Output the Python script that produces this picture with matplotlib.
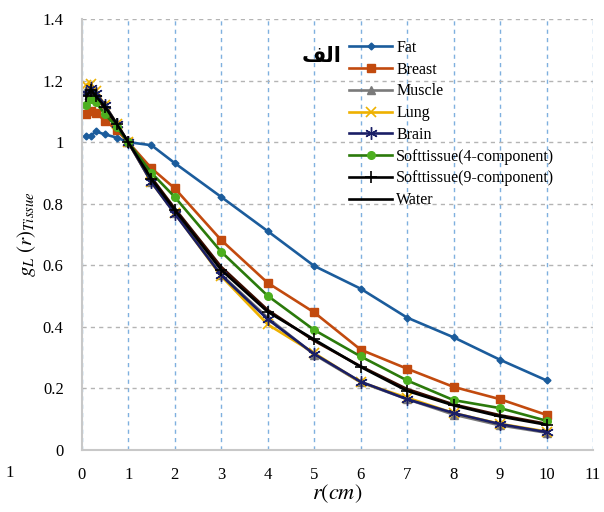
import matplotlib
matplotlib.use("Agg")
import matplotlib.pyplot as plt

# radial distances (cm)
r = [0.1, 0.2, 0.3, 0.5, 0.75, 1, 1.5, 2, 3, 4, 5, 6, 7, 8, 9, 10]

fat = [1.02, 1.02, 1.035, 1.025, 1.015, 1.0, 0.99, 0.932, 0.822, 0.711, 0.598, 0.524, 0.43, 0.366, 0.293, 0.226]
breast = [1.09, 1.10, 1.095, 1.07, 1.04, 1.0, 0.915, 0.85, 0.682, 0.543, 0.447, 0.326, 0.264, 0.205, 0.165, 0.114]
muscle = [1.17, 1.18, 1.16, 1.12, 1.06, 1.0, 0.87, 0.77, 0.57, 0.43, 0.31, 0.22, 0.165, 0.115, 0.08, 0.056]
lung = [1.185, 1.19, 1.165, 1.12, 1.06, 1.0, 0.87, 0.77, 0.565, 0.408, 0.315, 0.22, 0.17, 0.12, 0.085, 0.06]
brain = [1.16, 1.175, 1.16, 1.12, 1.06, 1.0, 0.87, 0.768, 0.568, 0.425, 0.312, 0.222, 0.165, 0.12, 0.084, 0.058]
soft4 = [1.12, 1.14, 1.13, 1.09, 1.05, 1.0, 0.90, 0.822, 0.644, 0.501, 0.39, 0.304, 0.226, 0.162, 0.136, 0.095]
soft9 = [1.15, 1.17, 1.15, 1.115, 1.06, 1.0, 0.88, 0.78, 0.585, 0.449, 0.359, 0.27, 0.192, 0.145, 0.109, 0.082]
water = [1.14, 1.16, 1.145, 1.11, 1.055, 1.0, 0.885, 0.785, 0.595, 0.455, 0.355, 0.272, 0.198, 0.148, 0.113, 0.085]

x_ticks = list(range(0, 12))
y_ticks = [0, 0.2, 0.4, 0.6, 0.8, 1, 1.2, 1.4]
y_labels = ["0", "0.2", "0.4", "0.6", "0.8", "1", "1.2", "1.4"]

plt.rcParams["font.family"] = ["Liberation Serif", "DejaVu Sans"]
plt.rcParams["mathtext.fontset"] = "stix"

fig = plt.figure(figsize=(6.04, 5.12), dpi=100)
ax = fig.add_axes([0.1353, 0.1211, 0.8465, 0.8418])

lw = 1.9
ax.plot(r, fat, color="#1b5c9c", lw=lw, marker="D", ms=3.5, label="Fat")
ax.plot(r, breast, color="#c24a0e", lw=lw, marker="s", ms=6, label="Breast")
ax.plot(r, muscle, color="#7a7a7a", lw=lw, marker="^", ms=6, label="Muscle")
ax.plot(r, lung, color="#eeb100", lw=lw, marker="x", ms=7, mew=1.2, label="Lung")
ax.plot(r, water, color="#3a0c00", lw=lw, label="_water")
ax.plot(r, brain, color="#1a1f66", lw=lw, marker=(6, 2, 0), ms=9, mew=1.0, label="Brain")
ax.plot(r, soft4, color="#2b7a0b", lw=lw, marker="o", mfc="#4caf1f", mec="#4caf1f", ms=5.5,
        label="Softtissue(4-component)")
ax.plot(r, soft9, color="black", lw=lw, marker="+", ms=9, mew=1.2, label="Softtissue(9-component)")
ax.plot([], [], color="black", lw=lw, label="Water")

ax.set_xlim(0, 11)
ax.set_ylim(0, 1.4)
ax.set_xticks(x_ticks)
ax.set_yticks(y_ticks)
ax.set_yticklabels(y_labels)
ax.tick_params(length=0, labelsize=12)
ax.tick_params(axis="x", pad=12)
ax.tick_params(axis="y", pad=13)

ax.grid(axis="x", color="#7fb0df", ls=(0, (3, 3)), lw=1.0)
ax.grid(axis="y", color="#b4b4b4", ls=(0, (3, 3)), lw=1.0)
ax.set_axisbelow(True)
for s in ["top", "right"]:
    ax.spines[s].set_visible(False)
for s in ["left", "bottom"]:
    ax.spines[s].set_color("#c8c8c8")
    ax.spines[s].set_linewidth(1.5)

ax.set_xlabel("$r(cm)$", fontsize=16, labelpad=0)
ax.set_ylabel(r"$g_L\ (r)_{Tissue}$", fontsize=15, labelpad=3)

leg = ax.legend(loc="upper left", bbox_to_anchor=(341 / 604, 1 - 32 / 512),
                bbox_transform=fig.transFigure, frameon=False, fontsize=11.5,
                handlelength=2.7, handletextpad=0.25, labelspacing=0.36, borderpad=0)

# Arabic label (presentation forms, visual order)
fig.text(322 / 604, 1 - 56 / 512, "\uFED2\uFEDF\uFE8D", fontsize=15, fontweight="bold",
         family=["DejaVu Sans"], ha="center", va="center")
fig.text(5 / 604, 1 - 473 / 512, "1", fontsize=12, ha="left", va="center")

fig.savefig("out.png", dpi=100)
